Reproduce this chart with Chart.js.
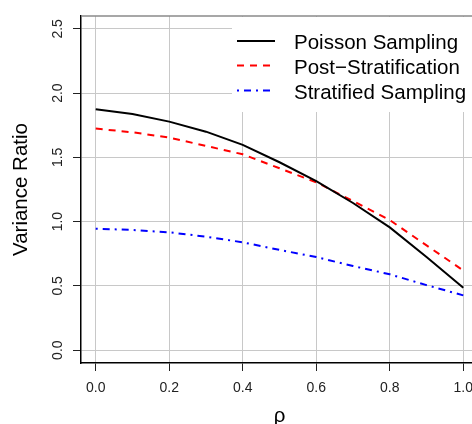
<!DOCTYPE html>
<html>
<head>
<meta charset="utf-8">
<script src="https://cdn.jsdelivr.net/npm/chart.js@4"></script>
<style>
  html, body { margin: 0; padding: 0; background: #fff; }
  #wrap { width: 472px; height: 424px; overflow: hidden; position: relative; }
  canvas { display: block; }
</style>
</head>
<body>
<div id="wrap"><canvas id="chart" width="490" height="424"></canvas></div>
<script>
const rho = [0, 0.1, 0.2, 0.3, 0.4, 0.5, 0.6, 0.7, 0.8, 0.9, 1.0];
const poisson = [1.875, 1.838, 1.778, 1.70, 1.597, 1.462, 1.316, 1.145, 0.955, 0.725, 0.485];
const postStrat = [1.724, 1.695, 1.654, 1.589, 1.524, 1.415, 1.306, 1.16, 1.012, 0.815, 0.62];
const stratified = [0.945, 0.935, 0.917, 0.883, 0.839, 0.780, 0.724, 0.655, 0.59, 0.506, 0.426];

const xTicks = [0, 0.2, 0.4, 0.6, 0.8, 1.0];
const yTicks = [0, 0.5, 1.0, 1.5, 2.0, 2.5];
const seriesNames = ["Poisson Sampling", "Post\u2212Stratification", "Stratified Sampling"];

const FONT = "'Liberation Sans', Arial, Helvetica, sans-serif";

function pts(ys) {
  return rho.map((x, i) => ({ x, y: ys[i] }));
}

const styles = [
  { color: "#000000", dash: [] },
  { color: "#ff0000", dash: [7, 6] },
  { color: "#0000ff", dash: [2, 5, 7, 5] },
];

// legend, y tick labels, top border
const extras = {
  id: "extras",
  afterDraw(chart) {
    const ctx = chart.ctx;
    const area = chart.chartArea;
    const ys = chart.scales.y;

    ctx.save();
    // top border
    ctx.strokeStyle = "#8a8a8a";
    ctx.lineWidth = 1.5;
    ctx.beginPath();
    ctx.moveTo(area.left + 1, area.top);
    ctx.lineTo(area.right, area.top);
    ctx.stroke();

    // y tick labels (rotated)
    ctx.fillStyle = "#222";
    ctx.font = "14px " + FONT;
    ctx.textAlign = "center";
    ctx.textBaseline = "alphabetic";
    yTicks.forEach((v) => {
      const py = ys.getPixelForValue(v);
      ctx.save();
      ctx.translate(62, py);
      ctx.rotate(-Math.PI / 2);
      ctx.fillText(v.toFixed(1), 0, 0);
      ctx.restore();
    });

    // legend
    ctx.fillStyle = "#ffffff";
    ctx.fillRect(232, area.top + 1, area.right - 232, 112 - area.top - 1);
    const rows = [41, 65.5, 90.5];
    ctx.font = "20.5px " + FONT;
    ctx.textAlign = "left";
    seriesNames.forEach((name, i) => {
      const y = rows[i];
      ctx.strokeStyle = styles[i].color;
      ctx.lineWidth = 2;
      ctx.setLineDash(styles[i].dash);
      ctx.beginPath();
      ctx.moveTo(237, y);
      ctx.lineTo(275, y);
      ctx.stroke();
      ctx.setLineDash([]);
      ctx.fillStyle = "#000";
      ctx.fillText(name, 294, y + 8.3);
    });
    ctx.restore();
  },
};

new Chart(document.getElementById("chart"), {
  type: "line",
  data: {
    datasets: [poisson, postStrat, stratified].map((d, i) => ({
      label: seriesNames[i],
      data: pts(d),
      borderColor: styles[i].color,
      borderDash: styles[i].dash,
      borderWidth: 2,
      pointRadius: 0,
      fill: false,
      tension: 0,
    })),
  },
  options: {
    responsive: false,
    animation: false,
    devicePixelRatio: 1,
    layout: { padding: { top: 16, right: 12, left: 0, bottom: 0 } },
    plugins: { legend: { display: false }, tooltip: { enabled: false } },
    scales: {
      x: {
        type: "linear",
        min: -0.04,
        max: 1.04,
        afterBuildTicks: (s) => { s.ticks = xTicks.map((v) => ({ value: v })); },
        afterFit: (s) => { s.height = 61; },
        ticks: {
          callback: (v) => Number(v).toFixed(1),
          font: { family: FONT, size: 14 },
          color: "#222",
          padding: 9,
          maxRotation: 0,
        },
        grid: { color: "#c8c8c8", lineWidth: 1, tickLength: 8, tickColor: "#222" },
        border: { display: true, color: "#000", width: 1.5 },
        title: {
          display: true,
          text: "\u03c1",
          font: { family: FONT, size: 20.5 },
          color: "#000",
          padding: { top: 0, bottom: -4.5 },
        },
      },
      y: {
        type: "linear",
        min: -0.1,
        max: 2.6,
        afterBuildTicks: (s) => { s.ticks = yTicks.map((v) => ({ value: v })); },
        afterFit: (s) => { s.width = 81; },
        ticks: { display: false },
        grid: { color: "#c8c8c8", lineWidth: 1, tickLength: 8, tickColor: "#222" },
        border: { display: true, color: "#000", width: 1.5 },
        title: {
          display: true,
          text: "Variance Ratio",
          font: { family: FONT, size: 20.5 },
          color: "#000",
          padding: { top: 9, bottom: 0 },
        },
      },
    },
  },
  plugins: [extras],
});
</script>
</body>
</html>
